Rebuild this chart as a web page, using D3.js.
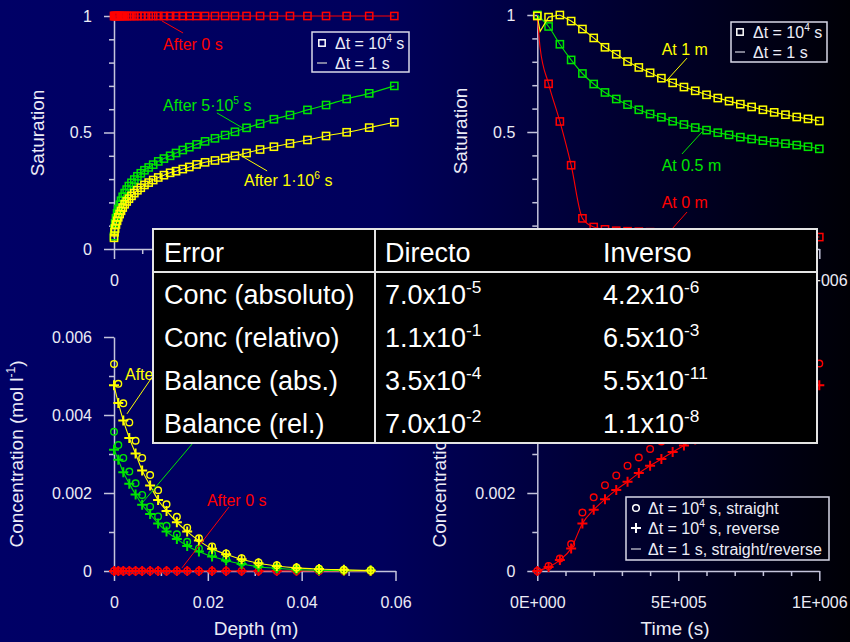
<!DOCTYPE html>
<html><head><meta charset="utf-8">
<script src="https://cdn.jsdelivr.net/npm/d3@7"></script>
<style>html,body{margin:0;padding:0;background:#000030;} svg{display:block;}</style>
</head><body><svg id="c" width="850" height="642"></svg>
<script>
// ---------------- DATA ----------------
// Panel A: saturation vs depth
const depthA = [0, 0.002, 0.004, 0.007, 0.011, 0.015, 0.020, 0.025, 0.031, 0.038,
  0.045, 0.053, 0.062, 0.072, 0.083, 0.095, 0.108, 0.123, 0.139,
  0.157, 0.177, 0.199, 0.220, 0.244, 0.267, 0.293, 0.323, 0.358, 0.394,
  0.429, 0.470, 0.518, 0.567, 0.624, 0.686, 0.752, 0.825, 0.905, 0.994];
const satA_0s = [1,1,1,1,1,1,1,1,1,1, 1,1,1,1,1,1,1,1,1, 1,1,1,1,1,1,1,1,1,1, 1,1,1,1,1,1,1,1,1,1];
const satA_5e5 = [0.055, 0.088, 0.110, 0.132, 0.153, 0.172, 0.190, 0.207, 0.224, 0.240,
  0.255, 0.270, 0.284, 0.298, 0.312, 0.325, 0.338, 0.350, 0.362,
  0.376, 0.388, 0.400, 0.412, 0.425, 0.437, 0.449, 0.462, 0.475, 0.489,
  0.503, 0.520, 0.538, 0.557, 0.575, 0.597, 0.618, 0.644, 0.668, 0.700];
const satA_1e6 = [0.048, 0.072, 0.088, 0.105, 0.121, 0.136, 0.150, 0.164, 0.178, 0.192,
  0.204, 0.216, 0.228, 0.240, 0.252, 0.263, 0.275, 0.285, 0.296,
  0.307, 0.317, 0.327, 0.334, 0.343, 0.352, 0.363, 0.372, 0.380, 0.390,
  0.400, 0.412, 0.427, 0.439, 0.453, 0.468, 0.485, 0.501, 0.521, 0.544];

// Panel B: saturation vs time
const timeB = [0, 40000, 80000, 120000, 160000, 200000, 240000, 280000, 320000, 360000,
  400000, 440000, 480000, 520000, 560000, 600000, 640000, 680000, 720000, 760000,
  800000, 840000, 880000, 920000, 960000, 1000000];
const satB_1m = [0.996, 0.991, 1.000, 0.974, 0.940, 0.902, 0.862, 0.832, 0.801, 0.776,
  0.753, 0.730, 0.710, 0.692, 0.676, 0.659, 0.645, 0.632, 0.619, 0.607,
  0.595, 0.584, 0.574, 0.564, 0.556, 0.547];
const satB_05m = [1.000, 0.951, 0.875, 0.808, 0.750, 0.705, 0.669, 0.641, 0.617, 0.595,
  0.577, 0.563, 0.546, 0.532, 0.519, 0.508, 0.497, 0.488, 0.478, 0.470,
  0.463, 0.456, 0.450, 0.444, 0.437, 0.428];
const satB_0m = [0.996, 0.706, 0.545, 0.358, 0.131, 0.094, 0.084, 0.078, 0.076, 0.074,
  0.072, 0.070, 0.068, 0.067, 0.065, 0.064, 0.062, 0.061, 0.060, 0.059,
  0.057, 0.056, 0.055, 0.054, 0.053, 0.051];
// fine-step (Δt = 1 s) extra early points
const earlyTimeB = [10000];
const earlySat_1m = [0.93];
const earlySat_0m = [0.86];

// Panel C: concentration vs depth
const depthC = [0, 0.00092, 0.00198, 0.00326, 0.0046, 0.0060, 0.0077, 0.0094, 0.0112, 0.0134,
  0.0156, 0.0181, 0.0209, 0.0239, 0.0272, 0.0308, 0.0347, 0.0389, 0.0437, 0.0490, 0.0547];
const concC_1e6_straight = [0.00531, 0.00480, 0.00430, 0.00381, 0.00334, 0.00290, 0.00246, 0.00207, 0.00171, 0.00139,
  0.00111, 0.00084, 0.00063, 0.00045, 0.00033, 0.00022, 0.00015, 0.00009, 0.00006, 0.00003, 0.00002];
const concC_1e6_reverse = [0.00476, 0.00431, 0.00386, 0.00341, 0.00301, 0.00258, 0.00219, 0.00182, 0.00154, 0.00125,
  0.00101, 0.00078, 0.00057, 0.00043, 0.00030, 0.00020, 0.00013, 0.00008, 0.00005, 0.00003, 0.00001];
const concC_5e5_straight = [0.00357, 0.00323, 0.00290, 0.00255, 0.00225, 0.00195, 0.00165, 0.00140, 0.00116, 0.00094,
  0.00075, 0.00058, 0.00044, 0.00031, 0.00021, 0.00014, 0.00009, 0.00005, 0.00003, 0.00002, 0.00001];
const concC_5e5_reverse = [0.00311, 0.00285, 0.00253, 0.00224, 0.00196, 0.00170, 0.00146, 0.00122, 0.00101, 0.00082,
  0.00064, 0.00050, 0.00037, 0.00027, 0.00018, 0.00011, 0.00007, 0.00004, 0.00002, 0.00001, 0.00001];
const concC_0s = [0,0,0,0,0,0,0,0,0,0, 0,0,0,0,0,0,0,0,0,0,0];

// Panel D: concentration at surface vs time
const timeD = [0, 40000, 80000, 120000, 160000, 200000, 240000, 280000, 320000, 360000,
  400000, 440000, 480000, 520000, 560000, 600000, 640000, 680000, 720000, 760000,
  800000, 840000, 880000, 920000, 960000, 1000000];
const concD_straight = [0, 0.00013, 0.00032, 0.00069, 0.00150, 0.00189, 0.00220, 0.00245, 0.00270, 0.00291,
  0.00313, 0.00332, 0.00350, 0.00367, 0.00383, 0.00398, 0.00413, 0.00427, 0.00441, 0.00454,
  0.00467, 0.00480, 0.00493, 0.00506, 0.00519, 0.00532];
const concD_reverse = [0, 0.00010, 0.00028, 0.00058, 0.00122, 0.00157, 0.00184, 0.00208, 0.00229, 0.00251,
  0.00270, 0.00287, 0.00305, 0.00322, 0.00337, 0.00351, 0.00365, 0.00378, 0.00391, 0.00403,
  0.00415, 0.00427, 0.00440, 0.00452, 0.00464, 0.00476];

// Ticks
const satTicks = [0, 0.5, 1];
const satTickLabels = ["0", "0.5", "1"];
const satMinor = [0.1, 0.2, 0.3, 0.4, 0.6, 0.7, 0.8, 0.9];
const depthATicks = [0, 0.5, 1];
const depthATickLabels = ["0", "0.5", "1"];
const depthAMinor = [0.1, 0.2, 0.3, 0.4, 0.6, 0.7, 0.8, 0.9];
const timeTicks = [0, 500000, 1000000];
const timeTickLabels = ["0E+000", "5E+005", "1E+006"];
const timeMinor = [100000, 200000, 300000, 400000, 600000, 700000, 800000, 900000];
const depthCTicks = [0, 0.02, 0.04, 0.06];
const depthCTickLabels = ["0", "0.02", "0.04", "0.06"];
const depthCMinor = [0.01, 0.03, 0.05];
const concTicks = [0, 0.002, 0.004, 0.006];
const concTickLabels = ["0", "0.002", "0.004", "0.006"];
const concMinor = [0.001, 0.003, 0.005];

// Table
const tableHeader = ["Error", "Directo", "Inverso"];
const errorLabels = ["Conc (absoluto)", "Conc (relativo)", "Balance (abs.)", "Balance (rel.)"];
const directoMant = ["7.0", "1.1", "3.5", "7.0"];
const directoExp = ["-5", "-1", "-4", "-2"];
const inversoMant = ["4.2", "6.5", "5.5", "1.1"];
const inversoExp = ["-6", "-3", "-11", "-8"];

// ---------------- STYLE ----------------
const FONT = '"Liberation Sans", Arial, Helvetica, sans-serif';
const AX = "#c4c4dc";
const TXT = "#ececf6";
const RED = "#ff0000", GREEN = "#00e600", YELLOW = "#ffff00";
const TABLE = {x0: 153, x1: 817, y0: 229, y1: 443};

const svg = d3.select("#c").attr("font-family", FONT);
const defs = svg.append("defs");
const grad = defs.append("linearGradient").attr("id", "bg").attr("x1", 0).attr("y1", 0).attr("x2", 1).attr("y2", 0);
grad.append("stop").attr("offset", "0%").attr("stop-color", "#000066");
grad.append("stop").attr("offset", "45%").attr("stop-color", "#00005c");
grad.append("stop").attr("offset", "100%").attr("stop-color", "#000006");
svg.append("rect").attr("width", 850).attr("height", 642).attr("fill", "url(#bg)");

// ---------------- SCALES ----------------
const xA = d3.scaleLinear().domain([0, 1]).range([114, 396]);
const yA = d3.scaleLinear().domain([0, 1]).range([249, 16]);
const xB = d3.scaleLinear().domain([0, 1e6]).range([537.3, 819.3]);
const yB = d3.scaleLinear().domain([0, 1]).range([249, 15]);
const xC = d3.scaleLinear().domain([0, 0.06]).range([114, 395.5]);
const yC = d3.scaleLinear().domain([0, 0.006]).range([571, 337]);
const xD = d3.scaleLinear().domain([0, 1e6]).range([537.3, 819.3]);
const yD = d3.scaleLinear().domain([0, 0.006]).range([571, 337]);

// ---------------- HELPERS ----------------
function styleAxis(g) {
  g.attr("font-family", FONT).attr("font-size", 16);
  g.selectAll("path, line").attr("stroke", AX).attr("stroke-width", 1.5);
  g.selectAll("text").attr("fill", TXT);
}
function drawAxes(x, y, xt, xl, xm, yt, yl, ym) {
  const y0 = y.range()[0], x0 = x.range()[0];
  const gx = svg.append("g").attr("transform", `translate(0,${y0})`)
    .call(d3.axisBottom(x).tickValues(xt).tickFormat((d, i) => xl[i]).tickSize(10).tickSizeOuter(0).tickPadding(15.5));
  styleAxis(gx);
  const gxm = svg.append("g").attr("transform", `translate(0,${y0})`)
    .call(d3.axisBottom(x).tickValues(xm).tickFormat(() => "").tickSize(5).tickSizeOuter(0));
  styleAxis(gxm); gxm.select(".domain").remove();
  const gy = svg.append("g").attr("transform", `translate(${x0},0)`)
    .call(d3.axisLeft(y).tickValues(yt).tickFormat((d, i) => yl[i]).tickSize(10).tickSizeOuter(0).tickPadding(12));
  styleAxis(gy);
  const gym = svg.append("g").attr("transform", `translate(${x0},0)`)
    .call(d3.axisLeft(y).tickValues(ym).tickFormat(() => "").tickSize(5).tickSizeOuter(0));
  styleAxis(gym); gym.select(".domain").remove();
}
function drawLine(x, y, xs, ys, color, curve) {
  const pts = xs.map((v, i) => [v, ys[i]]).sort((a, b) => a[0] - b[0]);
  svg.append("path").datum(pts)
    .attr("d", d3.line().x(d => x(d[0])).y(d => y(d[1])).curve(curve || d3.curveMonotoneX))
    .attr("fill", "none").attr("stroke", color).attr("stroke-width", 1.1);
}
function drawMarkers(x, y, xs, ys, color, kind) {
  const g = svg.append("g");
  const data = xs.map((v, i) => [v, ys[i]]);
  if (kind === "square") {
    g.selectAll("rect").data(data).join("rect")
      .attr("x", d => x(d[0]) - 3.6).attr("y", d => y(d[1]) - 3.6)
      .attr("width", 7.2).attr("height", 7.2)
      .attr("fill", "none").attr("stroke", color).attr("stroke-width", 1.5);
  } else if (kind === "circle") {
    g.selectAll("circle").data(data).join("circle")
      .attr("cx", d => x(d[0])).attr("cy", d => y(d[1])).attr("r", 3.3)
      .attr("fill", "none").attr("stroke", color).attr("stroke-width", 1.4);
  } else {
    g.selectAll("path").data(data).join("path")
      .attr("d", d => `M${x(d[0]) - 5},${y(d[1])}H${x(d[0]) + 5}M${x(d[0])},${y(d[1]) - 5}V${y(d[1]) + 5}`)
      .attr("fill", "none").attr("stroke", color).attr("stroke-width", 2);
  }
}
// rich text: parts [[text, isSup]]
function richText(parent, px, py, parts, size, color, anchor) {
  const t = parent.append("text").attr("x", px).attr("y", py).attr("font-size", size)
    .attr("fill", color).attr("text-anchor", anchor || "start");
  let raised = false;
  const rise = size * 0.42;
  parts.forEach(p => {
    const ts = t.append("tspan").text(p[0]);
    if (p[1]) { ts.attr("font-size", size * 0.64).attr("dy", raised ? 0 : -rise); raised = true; }
    else { if (raised) ts.attr("dy", rise); raised = false; }
  });
  return t;
}
function leader(x, y, a, b, color) {
  svg.append("line").attr("x1", x(a[0])).attr("y1", y(a[1])).attr("x2", x(b[0])).attr("y2", y(b[1]))
    .attr("stroke", color).attr("stroke-width", 1);
}
function rotTitle(px, py, parts) {
  const g = svg.append("g").attr("transform", `translate(${px},${py}) rotate(-90)`);
  richText(g, 0, 0, parts, 19, TXT, "middle");
}

// ---------------- PANEL A ----------------
drawAxes(xA, yA, depthATicks, depthATickLabels, depthAMinor, satTicks, satTickLabels, satMinor);
[[satA_0s, RED], [satA_5e5, GREEN], [satA_1e6, YELLOW]].forEach(([s, c]) => {
  drawMarkers(xA, yA, depthA, s, c, "square");
  drawLine(xA, yA, depthA, s, c);
});
rotTitle(44, 133, [["Saturation"]]);
svg.append("text").attr("x", xA(0.5)).attr("y", 313).attr("text-anchor", "middle")
  .attr("font-size", 19).attr("fill", TXT).text("Depth (m)");
richText(svg, xA(0.174), yA(0.854), [["After 0 s"]], 16, RED);
leader(xA, yA, [0.170, 0.979], [0.245, 0.927], RED);
richText(svg, xA(0.174), yA(0.592), [["After 5·10"], ["5", true], [" s"]], 16, GREEN);
leader(xA, yA, [0.365, 0.584], [0.457, 0.519], GREEN);
richText(svg, xA(0.461), yA(0.270), [["After 1·10"], ["6", true], [" s"]], 16, YELLOW);
leader(xA, yA, [0.543, 0.335], [0.447, 0.403], YELLOW);
// legend A
function legendSquareLine(bx, by, bw, bh, r1, r2, mx, tx) {
  svg.append("rect").attr("x", bx).attr("y", by).attr("width", bw).attr("height", bh)
    .attr("fill", "none").attr("stroke", "#d8d8e8").attr("stroke-width", 1.5);
  svg.append("rect").attr("x", mx - 3.2).attr("y", r1 - 3.2).attr("width", 6.4).attr("height", 6.4)
    .attr("fill", "none").attr("stroke", "#ffffff").attr("stroke-width", 1.5);
  svg.append("line").attr("x1", mx - 5).attr("x2", mx + 5).attr("y1", r2).attr("y2", r2)
    .attr("stroke", "#a8a8b8").attr("stroke-width", 1.5);
  richText(svg, tx, r1 + 6, [["Δt = 10"], ["4", true], [" s"]], 16, TXT);
  richText(svg, tx, r2 + 6, [["Δt = 1 s"]], 16, TXT);
}
legendSquareLine(312, 32, 97, 40, 43, 63, 322, 335);

// ---------------- PANEL B ----------------
drawAxes(xB, yB, timeTicks, timeTickLabels, timeMinor, satTicks, satTickLabels, satMinor);
drawMarkers(xB, yB, timeB, satB_0m, RED, "square");
drawLine(xB, yB, timeB.concat(earlyTimeB), satB_0m.concat(earlySat_0m), RED);
drawMarkers(xB, yB, timeB, satB_05m, GREEN, "square");
drawLine(xB, yB, timeB, satB_05m, GREEN);
drawMarkers(xB, yB, timeB, satB_1m, YELLOW, "square");
drawLine(xB, yB, timeB.concat(earlyTimeB), satB_1m.concat(earlySat_1m), YELLOW, d3.curveLinear);
rotTitle(467, 131, [["Saturation"]]);
svg.append("text").attr("x", xB(0.5e6)).attr("y", 313).attr("text-anchor", "middle")
  .attr("font-size", 19).attr("fill", TXT).text("Time (s)");
richText(svg, xB(0.441e6), yB(0.829), [["At 1 m"]], 16, YELLOW);
leader(xB, yB, [0.531e6, 0.816], [0.460e6, 0.722], YELLOW);
richText(svg, xB(0.441e6), yB(0.335), [["At 0.5 m"]], 16, GREEN);
leader(xB, yB, [0.513e6, 0.406], [0.584e6, 0.500], GREEN);
richText(svg, xB(0.441e6), yB(0.175), [["At 0 m"]], 16, RED);
leader(xB, yB, [0.531e6, 0.158], [0.47e6, 0.075], RED);
legendSquareLine(731, 22, 96, 40, 32, 52, 740, 753);

// ---------------- PANEL C ----------------
drawAxes(xC, yC, depthCTicks, depthCTickLabels, depthCMinor, concTicks, concTickLabels, concMinor);
drawLine(xC, yC, depthC, concC_0s, RED);
drawMarkers(xC, yC, depthC, concC_0s, RED, "circle");
drawMarkers(xC, yC, depthC, concC_0s, RED, "plus");
drawLine(xC, yC, depthC, concC_5e5_reverse, GREEN);
drawMarkers(xC, yC, depthC, concC_5e5_straight, GREEN, "circle");
drawMarkers(xC, yC, depthC, concC_5e5_reverse, GREEN, "plus");
drawLine(xC, yC, depthC, concC_1e6_reverse, YELLOW);
drawMarkers(xC, yC, depthC, concC_1e6_straight, YELLOW, "circle");
drawMarkers(xC, yC, depthC, concC_1e6_reverse, YELLOW, "plus");
rotTitle(23, 454, [["Concentration (mol l"], ["-1", true], [")"]]);
svg.append("text").attr("x", 256).attr("y", 635).attr("text-anchor", "middle")
  .attr("font-size", 19).attr("fill", TXT).text("Depth (m)");
richText(svg, xC(0.00234), yC(0.00490), [["After 1·10"], ["6", true], [" s"]], 16, YELLOW);
leader(xC, yC, [0.00277, 0.00403], [0.0109, 0.00546], YELLOW);
richText(svg, xC(0.0185), yC(0.00385), [["After 5·10"], ["5", true], [" s"]], 16, GREEN);
leader(xC, yC, [0.00618, 0.00177], [0.0183, 0.00349], GREEN);
richText(svg, xC(0.0198), yC(0.00167), [["After 0 s"]], 16, RED);
leader(xC, yC, [0.0245, 0.00164], [0.0145, 0.00008], RED);

// ---------------- PANEL D ----------------
drawAxes(xD, yD, timeTicks, timeTickLabels, timeMinor, concTicks, concTickLabels, concMinor);
drawLine(xD, yD, timeD, concD_reverse, RED);
drawMarkers(xD, yD, timeD, concD_straight, RED, "circle");
drawMarkers(xD, yD, timeD, concD_reverse, RED, "plus");
rotTitle(446, 454, [["Concentration (mol l"], ["-1", true], [")"]]);
svg.append("text").attr("x", 675).attr("y", 635).attr("text-anchor", "middle")
  .attr("font-size", 19).attr("fill", TXT).text("Time (s)");
// legend D
svg.append("rect").attr("x", 626).attr("y", 497).attr("width", 203).attr("height", 63)
  .attr("fill", "none").attr("stroke", "#d8d8e8").attr("stroke-width", 1.5);
svg.append("circle").attr("cx", 636).attr("cy", 508).attr("r", 3.3)
  .attr("fill", "none").attr("stroke", "#fff").attr("stroke-width", 1.5);
svg.append("path").attr("d", "M631,528H641M636,523V533").attr("stroke", "#fff").attr("stroke-width", 2);
svg.append("line").attr("x1", 631).attr("x2", 641).attr("y1", 549).attr("y2", 549)
  .attr("stroke", "#a8a8b8").attr("stroke-width", 1.5);
richText(svg, 648, 514, [["Δt = 10"], ["4", true], [" s, straight"]], 16, TXT);
richText(svg, 648, 534, [["Δt = 10"], ["4", true], [" s, reverse"]], 16, TXT);
richText(svg, 648, 555, [["Δt = 1 s, straight/reverse"]], 16, TXT);

// Texts entirely covered by the table are not visible in the figure: drop them.
svg.selectAll("text").each(function () {
  const b = this.getBoundingClientRect();
  if (b.left >= TABLE.x0 && b.right <= TABLE.x1 && b.top >= TABLE.y0 && b.bottom <= TABLE.y1) {
    d3.select(this).remove();
  }
});

// ---------------- TABLE ----------------
const tb = svg.append("g");
tb.append("rect").attr("x", TABLE.x0).attr("y", TABLE.y0).attr("width", TABLE.x1 - TABLE.x0).attr("height", TABLE.y1 - TABLE.y0)
  .attr("fill", "#000").attr("stroke", "#e4e4e4").attr("stroke-width", 2);
tb.append("line").attr("x1", TABLE.x0).attr("x2", TABLE.x1).attr("y1", 272).attr("y2", 272)
  .attr("stroke", "#e4e4e4").attr("stroke-width", 2);
tb.append("line").attr("x1", 375).attr("x2", 375).attr("y1", TABLE.y0).attr("y2", TABLE.y1)
  .attr("stroke", "#e4e4e4").attr("stroke-width", 2);
const colX = [164, 385, 603];
const rowY = [262, 304, 347, 390, 433];
tableHeader.forEach((h, i) => richText(tb, colX[i], rowY[0], [[h]], 27, "#fff"));
errorLabels.forEach((l, i) => {
  richText(tb, colX[0], rowY[i + 1], [[l]], 27, "#fff");
  richText(tb, colX[1], rowY[i + 1], [[directoMant[i] + "x10"], [directoExp[i], true]], 27, "#fff");
  richText(tb, colX[2], rowY[i + 1], [[inversoMant[i] + "x10"], [inversoExp[i], true]], 27, "#fff");
});
</script></body></html>
